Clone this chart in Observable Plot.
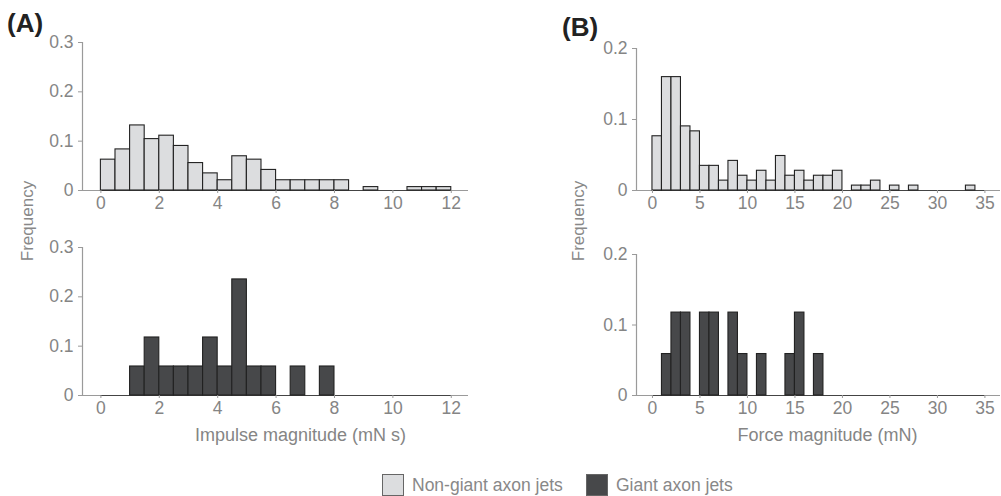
<!DOCTYPE html>
<html>
<head>
<meta charset="utf-8">
<script src="https://cdn.jsdelivr.net/npm/d3@7"></script>
<script src="https://cdn.jsdelivr.net/npm/@observablehq/plot@0.6"></script>
<style>
  body { margin: 0; background: #fff; }
  #fig { position: relative; width: 1001px; height: 496px; overflow: hidden;
         font-family: "Liberation Sans", Arial, Helvetica, sans-serif; }
  .abs { position: absolute; }
  .panel { font-weight: bold; font-size: 26px; color: #222; line-height: 1; }
  .ylab { font-size: 17px; color: #888; width: 140px; text-align: center; line-height: 20px;
          transform: rotate(-90deg); transform-origin: 50% 50%; white-space: nowrap; }
  .legend { font-size: 17.5px; color: #888; line-height: 22px; white-space: nowrap; }
  .sw { display: inline-block; width: 20px; height: 20px; border: 1px solid #666; vertical-align: top; }
</style>
</head>
<body>
<div id="fig"></div>
<script>
// ---- data ----
const edgesA = [0,0.5,1,1.5,2,2.5,3,3.5,4,4.5,5,5.5,6,6.5,7,7.5,8,8.5,9,9.5,10,10.5,11,11.5,12];
const impulseNonGiant = [0.0625,0.0833,0.1319,0.1042,0.1111,0.0903,0.0556,0.0347,0.0208,0.0694,0.0625,0.0417,
                         0.0208,0.0208,0.0208,0.0208,0.0208,0,0.0069,0,0,0.0069,0.0069,0.0069];
const impulseGiant    = [0,0,0.0588,0.1176,0.0588,0.0588,0.0588,0.1176,0.0588,0.2353,0.0588,0.0588,
                         0,0.0588,0,0.0588,0,0,0,0,0,0,0,0];
const edgesB = [0,1,2,3,4,5,6,7,8,9,10,11,12,13,14,15,16,17,18,19,20,21,22,23,24,25,26,27,28,29,30,31,32,33,34,35];
const forceNonGiant = [0.0764,0.1597,0.1597,0.0903,0.0833,0.0347,0.0347,0.0139,0.0417,0.0208,0.0139,0.0278,
                       0.0139,0.0486,0.0208,0.0278,0.0139,0.0208,0.0208,0.0278,0,0.0069,0.0069,0.0139,
                       0,0.0069,0,0.0069,0,0,0,0,0,0.0069,0];
const forceGiant    = [0,0.0588,0.1176,0.1176,0,0.1176,0.1176,0,0.1176,0.0588,0,0.0588,
                       0,0,0.0588,0.1176,0,0.0588,0,0,0,0,0,0,0,0,0,0,0,0,0,0,0,0,0];
const xTicksA = [0,2,4,6,8,10,12];
const xTicksB = [0,5,10,15,20,25,30,35];
const yTicksA = [0,0.1,0.2,0.3];
const yTicksB = [0,0.1,0.2];
const seriesNames = ["Non-giant axon jets", "Giant axon jets"];
const seriesFill = ["#dcdddf", "#47484a"];
const xTitles = ["Impulse magnitude (mN s)", "Force magnitude (mN)"];

// ---- drawing ----
const axisGray = "#9a9a9a";
const textGray = "#858585";
const fontFam = '"Liberation Sans", Arial, Helvetica, sans-serif';
const fig = document.getElementById("fig");

function hist(o) {
  const rows = o.freq.map((f, i) => ({x1: o.edges[i], x2: o.edges[i + 1], f})).filter(d => d.f > 0);
  const yMax = o.yTicks[o.yTicks.length - 1];
  const marks = [
    Plot.ruleY([0], {stroke: axisGray, strokeWidth: 1.2}),
    Plot.ruleX([o.xDomain[0]], {y1: 0, y2: yMax, stroke: axisGray, strokeWidth: 1.2}),
    Plot.ruleY([0], {x1: o.edges[0], x2: o.edges[o.edges.length - 1], stroke: "#444", strokeWidth: 1}),
    Plot.rectY(rows, {x1: "x1", x2: "x2", y: "f", fill: o.fill, stroke: "#222", strokeWidth: 1.1}),
    Plot.axisY({ticks: o.yTicks, tickFormat: d => d === 0 ? "0" : d3.format(".1f")(d),
                tickSize: 4, tickPadding: 5, stroke: axisGray, fontSize: 17.5, label: null}),
    Plot.axisX({ticks: o.xTicks, tickFormat: d => String(d), tickSize: 3, tickPadding: 3,
                stroke: axisGray, fontSize: 17.5, label: null})
  ];
  if (o.label) {
    marks.push(Plot.text([o.label], {text: d => d, frameAnchor: "bottom", lineAnchor: "top",
                                     dx: o.labelDx, dy: 33, fontSize: 18, fill: textGray}));
  }
  const svg = Plot.plot({
    width: o.width, height: o.height,
    marginLeft: o.mL, marginRight: o.mR, marginTop: o.mT, marginBottom: o.mB,
    x: {domain: o.xDomain},
    y: {domain: [0, yMax]},
    style: {fontFamily: fontFam, fontSize: "17px",
            color: textGray, background: "transparent", overflow: "visible"},
    marks
  });
  const wrap = document.createElement("div");
  wrap.className = "abs";
  wrap.style.left = o.left + "px";
  wrap.style.top = o.top + "px";
  wrap.appendChild(svg);
  fig.appendChild(wrap);
}

// Panel A
hist({left: 0, top: 0, width: 490, height: 215, mL: 82, mR: 22, mT: 42, mB: 25,
      xDomain: [-0.63, 12.59], edges: edgesA, freq: impulseNonGiant, fill: seriesFill[0],
      xTicks: xTicksA, yTicks: yTicksA});
hist({left: 0, top: 215, width: 490, height: 235, mL: 82, mR: 22, mT: 32, mB: 55,
      xDomain: [-0.63, 12.59], edges: edgesA, freq: impulseGiant, fill: seriesFill[1],
      xTicks: xTicksA, yTicks: yTicksA, label: xTitles[0], labelDx: 25});
// Panel B
hist({left: 560, top: 0, width: 441, height: 215, mL: 76, mR: 1, mT: 48, mB: 25,
      xDomain: [-1.68, 36.64], edges: edgesB, freq: forceNonGiant, fill: seriesFill[0],
      xTicks: xTicksB, yTicks: yTicksB});
hist({left: 560, top: 215, width: 441, height: 235, mL: 76, mR: 1, mT: 39, mB: 55,
      xDomain: [-1.68, 36.64], edges: edgesB, freq: forceGiant, fill: seriesFill[1],
      xTicks: xTicksB, yTicks: yTicksB, label: xTitles[1], labelDx: 9});

// panel letters and shared y labels
function addText(html, cls, left, top) {
  const d = document.createElement("div");
  d.className = "abs " + cls;
  d.style.left = left + "px";
  d.style.top = top + "px";
  d.innerHTML = html;
  fig.appendChild(d);
  return d;
}
addText("(A)", "panel", 7, 10);
addText("(B)", "panel", 562, 14);
addText("Frequency", "ylab", 28 - 70, 221 - 10);
addText("Frequency", "ylab", 579 - 70, 221 - 10);

// legend
const lefts = [382, 586];
seriesNames.forEach((name, i) => {
  const item = document.createElement("div");
  item.className = "abs legend";
  item.style.left = lefts[i] + "px";
  item.style.top = "474px";
  item.innerHTML = `<span class="sw" style="background:${seriesFill[i]}"></span><span style="margin-left:8px">${name}</span>`;
  fig.appendChild(item);
});
</script>
</body>
</html>
